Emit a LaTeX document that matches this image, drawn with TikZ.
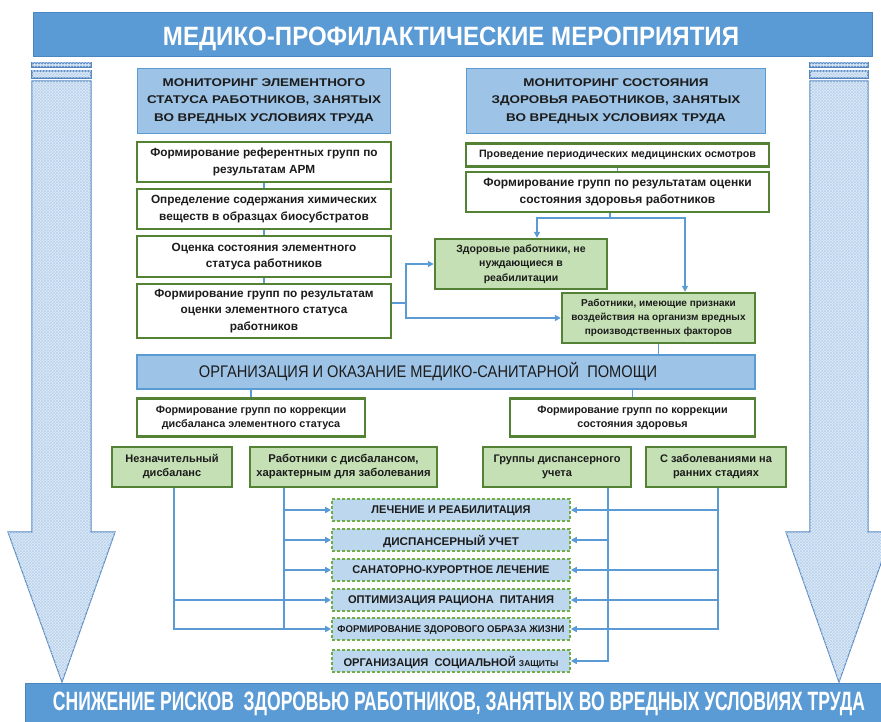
\documentclass[tikz,border=0pt]{standalone}
\usepackage{fontspec}
\usepackage{graphicx}
\setmainfont{Liberation Sans}
\newfontfamily\wid[FakeStretch=1.2]{Liberation Sans}
\usetikzlibrary{arrows.meta,calc,patterns}
\definecolor{bannerblue}{HTML}{5B9BD5}
\definecolor{bannerdark}{HTML}{4A86C0}
\definecolor{monblue}{HTML}{9DC3E6}
\definecolor{textdark}{HTML}{1C1C1C}
\definecolor{gdark}{HTML}{548235}
\definecolor{glight}{HTML}{C5E0B4}
\definecolor{gdash}{HTML}{70AD47}
\definecolor{tblue}{HTML}{BDD7EE}
\definecolor{lineblue}{HTML}{5B9BD5}
\definecolor{arrowfill}{HTML}{E0ECF8}
\definecolor{arrowhatch}{HTML}{B9D2EC}
\definecolor{arrowborder}{HTML}{5585C0}
\newcommand\sq[2]{\resizebox{#1}{\height}{#2}}
\begin{document}
\begin{tikzpicture}[x=1pt,y=-1pt,
  banner/.style={draw=bannerdark, fill=bannerblue, line width=1pt, inner sep=0pt},
  mon/.style={draw=bannerblue, fill=monblue, line width=1.2pt, text=textdark, align=center, inner sep=0pt,
     font=\wid\bfseries\fontsize{11.2}{17.5}\selectfont},
  wbox/.style={draw=gdark, fill=white, line width=2.4pt, text=textdark, align=center, inner sep=0pt},
  gbox/.style={wbox, fill=glight},
  tbox/.style={draw=gdash, fill=tblue, dash pattern=on 3pt off 2pt, line width=1.6pt, inner sep=0pt,
     minimum width=238pt, minimum height=22pt, text depth=0pt, text=textdark, font=\bfseries\fontsize{11.2}{12}\selectfont},
  conn/.style={draw=lineblue, line width=1.5pt},
  arr/.style={conn, -{Triangle[length=6pt,width=6pt]}},
  bigarrow/.style={draw=arrowborder, fill=arrowfill, line width=1.1pt,
     postaction={pattern=crosshatch, pattern color=arrowhatch}},
  txt/.style={inner sep=0pt}
]
\useasboundingbox (0,0) rectangle (881,722);
\clip (0,0) rectangle (881,722);

% big side arrows
\draw[bigarrow] (32,63) rectangle (91,67);
\draw[bigarrow] (32,71) rectangle (91,78);
\draw[bigarrow] (32,81) -- (91,81) -- (91,532) -- (115,532) -- (62,682) -- (8,532) -- (32,532) -- cycle;
\draw[bigarrow] (810,63) rectangle (868,67);
\draw[bigarrow] (810,71) rectangle (868,78);
\draw[bigarrow] (810,81) -- (868,81) -- (868,532) -- (892,532) -- (839,682) -- (786,532) -- (810,532) -- cycle;

% banners
\node[banner, minimum width=839pt, minimum height=44pt] (top) at (452.5,34.5) {};
\node[txt, text=white, text depth=0pt] (toptext) at (451,36.5) {\fontsize{26.5}{26.5}\selectfont\bfseries\sq{576pt}{МЕДИКО-ПРОФИЛАКТИЧЕСКИЕ МЕРОПРИЯТИЯ}};
\node[banner, minimum width=875pt, minimum height=40pt] (bottom) at (462.5,703) {};
\node[txt, text=white] (bottext) at (459,703.5) {\fontsize{26.5}{26.5}\selectfont\bfseries\sq{812pt}{СНИЖЕНИЕ РИСКОВ\ \ ЗДОРОВЬЮ РАБОТНИКОВ, ЗАНЯТЫХ ВО ВРЕДНЫХ УСЛОВИЯХ ТРУДА}};

% monitoring boxes
\node[mon, minimum width=253pt, minimum height=65pt] (monL) at (264,101) {МОНИТОРИНГ ЭЛЕМЕНТНОГО\\СТАТУСА РАБОТНИКОВ, ЗАНЯТЫХ\\ВО ВРЕДНЫХ УСЛОВИЯХ ТРУДА};
\node[mon, minimum width=299pt, minimum height=65pt] (monR) at (616,101) {МОНИТОРИНГ СОСТОЯНИЯ\\ЗДОРОВЬЯ РАБОТНИКОВ, ЗАНЯТЫХ\\ВО ВРЕДНЫХ УСЛОВИЯХ ТРУДА};

% left column
\node[wbox, minimum width=254pt, minimum height=40pt, font=\bfseries\fontsize{11.8}{17}\selectfont] (A) at (264,162) {Формирование референтных групп по\\результатам АРМ};
\node[wbox, minimum width=254pt, minimum height=40pt, font=\bfseries\fontsize{11.8}{17}\selectfont] (B) at (264,209) {Определение содержания химических\\веществ в образцах биосубстратов};
\node[wbox, minimum width=254pt, minimum height=41pt, font=\bfseries\fontsize{11.8}{16.5}\selectfont] (C) at (264,256.5) {Оценка состояния элементного\\статуса работников};
\node[wbox, minimum width=254pt, minimum height=54pt, font=\bfseries\fontsize{11.8}{16.7}\selectfont] (D) at (264,311) {Формирование групп по результатам\\оценки элементного статуса\\работников};

% right column
\node[wbox, minimum width=303pt, minimum height=23pt, font=\bfseries\fontsize{10.7}{12}\selectfont] (P) at (617.5,155) {Проведение периодических медицинских осмотров};
\node[wbox, minimum width=303pt, minimum height=40pt, font=\bfseries\fontsize{12}{17}\selectfont] (F) at (617.5,192) {Формирование групп по результатам оценки\\состояния здоровья работников};
\node[gbox, minimum width=172pt, minimum height=50pt, font=\bfseries\fontsize{10.5}{14.5}\selectfont] (H) at (521,264) {Здоровые работники, не\\нуждающиеся в\\реабилитации};
\node[gbox, minimum width=193pt, minimum height=50pt, font=\bfseries\fontsize{10}{14}\selectfont] (W) at (658.5,318) {Работники, имеющие признаки\\воздействия на организм вредных\\производственных факторов};

% organisation banner
\node[mon, minimum width=618pt, minimum height=34pt] (org) at (446,372) {};
\node[txt, text=textdark] (orgtext) at (428,372) {\fontsize{16.8}{17}\selectfont\sq{458pt}{ОРГАНИЗАЦИЯ И ОКАЗАНИЕ МЕДИКО-САНИТАРНОЙ\ \ ПОМОЩИ}};

\node[wbox, minimum width=228pt, minimum height=38pt, font=\bfseries\fontsize{10.8}{14}\selectfont] (L1) at (251,417.5) {Формирование групп по коррекции\\дисбаланса элементного статуса};
\node[wbox, minimum width=245pt, minimum height=38pt, font=\bfseries\fontsize{10.8}{14}\selectfont] (R1) at (632.5,417.5) {Формирование групп по коррекции\\состояния здоровья};

\node[gbox, minimum width=120pt, minimum height=40pt, font=\bfseries\fontsize{11}{14}\selectfont] (G1) at (172,467) {Незначительный\\дисбаланс};
\node[gbox, minimum width=187pt, minimum height=40pt, font=\bfseries\fontsize{11.3}{14}\selectfont] (G2) at (343.5,467) {Работники с дисбалансом,\\характерным для заболевания};
\node[gbox, minimum width=148pt, minimum height=40pt, font=\bfseries\fontsize{11}{14}\selectfont] (G3) at (557,467) {Группы диспансерного\\учета};
\node[gbox, minimum width=140pt, minimum height=40pt, font=\bfseries\fontsize{11}{14}\selectfont] (G4) at (716,467) {С заболеваниями на\\ранних стадиях};

% target boxes
\node[tbox] (T1) at (451,510) {\sq{159pt}{ЛЕЧЕНИЕ И РЕАБИЛИТАЦИЯ}};
\node[tbox] (T2) at (451,540) {\sq{136pt}{ДИСПАНСЕРНЫЙ УЧЕТ}};
\node[tbox] (T3) at (451,570) {\sq{197pt}{САНАТОРНО-КУРОРТНОЕ ЛЕЧЕНИЕ}};
\node[tbox] (T4) at (451,600) {\sq{206pt}{ОПТИМИЗАЦИЯ РАЦИОНА\ \ ПИТАНИЯ}};
\node[tbox] (T5) at (451,629) {\fontsize{9.8}{10}\selectfont\sq{227pt}{ФОРМИРОВАНИЕ ЗДОРОВОГО ОБРАЗА ЖИЗНИ}};
\node[tbox] (T6) at (451,661) {\sq{215pt}{ОРГАНИЗАЦИЯ\ \ СОЦИАЛЬНОЙ {\fontsize{8.5}{9}\selectfont ЗАЩИТЫ}}};

% connectors, upper part
\draw[conn] (A) -- (B);
\draw[conn] (B) -- (C);
\draw[conn] (C) -- (D);
\draw[conn] (P) -- (F);
\coordinate (dj) at (406,303);
\draw[conn] (D.east |- dj) -- (dj);
\draw[arr] (dj) |- (H.west);
\draw[arr] (dj) |- (W.west);
\coordinate (fj) at (610,218);
\draw[conn] (F.south -| fj) -- (fj);
\draw[arr] (fj) -| ($(H.north)+(16,0)$);
\draw[arr] (fj) -| ($(W.north)+(26.5,0)$);
\draw[conn] (W.south) -- (W.south |- org.north);
\draw[conn] (L1.north |- org.south) -- (L1.north);
\draw[conn] (R1.north |- org.south) -- (R1.north);

% connectors, lower part
\coordinate (xa) at (174,0);
\coordinate (xb) at (284,0);
\coordinate (xc) at (608,0);
\coordinate (xd) at (718,0);
\draw[arr] (G1.south -| xa) |- (T5.west);
\draw[arr] (xa |- T4.west) -- (T4.west);
\draw[conn] (G2.south -| xb) -- (xb |- T5.west);
\draw[arr] (xb |- T1.west) -- (T1.west);
\draw[arr] (xb |- T2.west) -- (T2.west);
\draw[arr] (xb |- T3.west) -- (T3.west);
\draw[arr] (G4.south -| xd) |- (T5.east);
\draw[arr] (xd |- T1.east) -- (T1.east);
\draw[arr] (xd |- T3.east) -- (T3.east);
\draw[arr] (xd |- T4.east) -- (T4.east);
\draw[arr] (G3.south -| xc) |- (T6.east);
\draw[arr] (xc |- T2.east) -- (T2.east);
\end{tikzpicture}
\end{document}
